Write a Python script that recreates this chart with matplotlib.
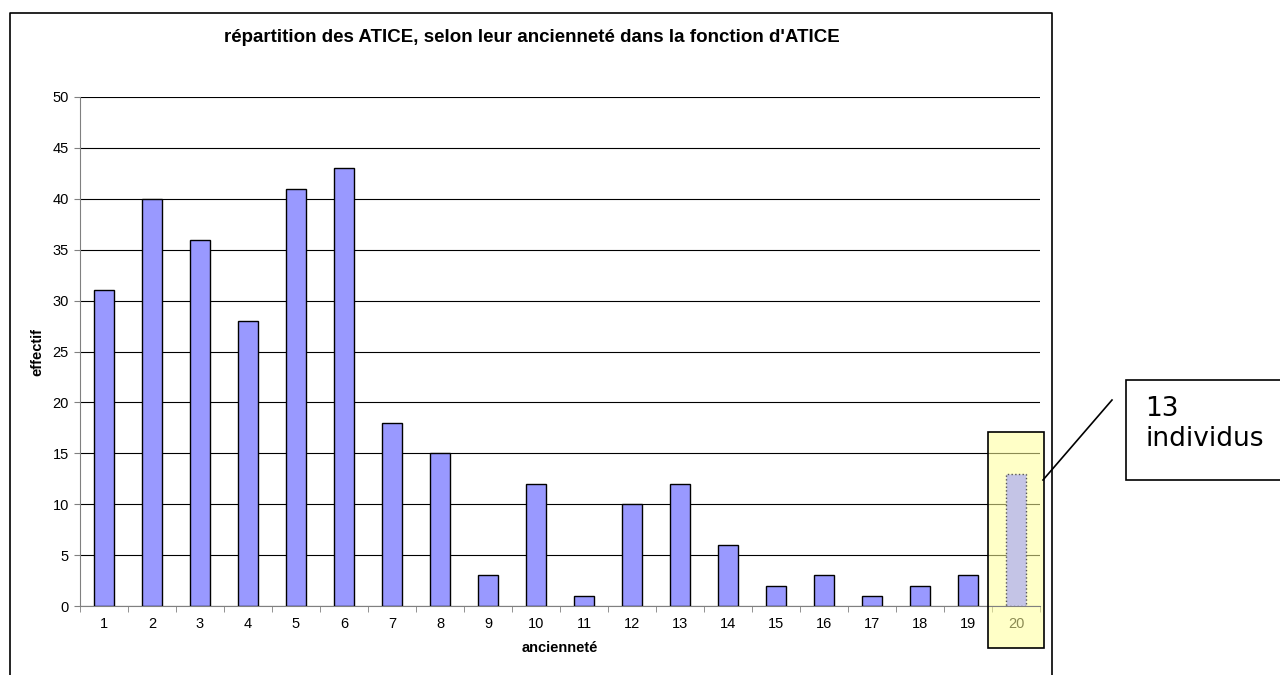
import matplotlib
matplotlib.use('Agg')
from matplotlib import pyplot as plt
from matplotlib.patches import Rectangle
from matplotlib.lines import Line2D

categories = list(range(1, 21))
effectif = [31, 40, 36, 28, 41, 43, 18, 15, 3, 12, 1, 10, 12, 6, 2, 3, 1, 2, 3, 13]
yticks = list(range(0, 51, 5))

plt.rcParams['font.family'] = ['Liberation Sans', 'DejaVu Sans']

fig = plt.figure(figsize=(12.8, 6.75), dpi=100)
W, H = 1280, 675

# outer chart frame (bottom is cut off in the reference)
fig.add_artist(Line2D([10/W, 10/W, 1052/W, 1052/W], [0, 1-13/H, 1-13/H, 0],
                      transform=fig.transFigure, color='black', lw=1.2))

ax = fig.add_axes([80/W, 1-606/H, 960/W, 509/H])

colors = ['#9999ff'] * 19 + ['#c4c4e6']
bars = ax.bar(categories, effectif, width=0.4, color=colors,
              edgecolor='black', linewidth=1, zorder=3)
bars[-1].set_edgecolor('#555555')
bars[-1].set_linestyle(':')

ax.set_xlim(0.5, 20.5)
ax.set_ylim(0, 50)
ax.set_yticks(yticks)
ax.set_xticks(categories)
ax.set_xticks([c + 0.5 for c in [0] + categories], minor=True)
ax.tick_params(axis='x', which='major', length=0, pad=8, labelsize=10.5)
ax.tick_params(axis='x', which='minor', length=4, direction='out', color='#808080')
ax.tick_params(axis='y', length=4, direction='out', color='#808080', labelsize=10.5, pad=4)
ax.yaxis.grid(True, color='black', lw=0.8, zorder=0)
ax.set_axisbelow(True)
for s in ['top', 'right']:
    ax.spines[s].set_visible(False)
ax.spines['left'].set_color('#808080')
ax.spines['bottom'].set_color('#808080')

ax.set_xlabel('ancienneté', fontweight='bold', fontsize=10.5, labelpad=7)
ax.set_ylabel('effectif', fontweight='bold', fontsize=10.5, labelpad=6)
fig.text(532/W, 1-38/H, "répartition des ATICE, selon leur ancienneté dans la fonction d'ATICE",
         ha='center', va='center', fontweight='bold', fontsize=13.5)

# highlight around the last bar
ax.add_patch(Rectangle((19.42, -4.1), 1.16, 21.2, facecolor='#ffff99', alpha=0.55,
                       edgecolor='none', clip_on=False, zorder=2))
ax.add_patch(Rectangle((19.42, -4.1), 1.16, 21.2, facecolor='none',
                       edgecolor='black', lw=1.2, clip_on=False, zorder=4))

# callout
fig.add_artist(Rectangle((1126/W, 1-480/H), 170/W, 100/H, transform=fig.transFigure,
                         facecolor='white', edgecolor='black', lw=1.2))
fig.text(1145/W, 1-424/H, '13\nindividus', family='DejaVu Sans', fontsize=19,
         ha='left', va='center', linespacing=1.25)
fig.add_artist(Line2D([1043/W, 1112/W], [1-480/H, 1-400/H],
                      transform=fig.transFigure, color='black', lw=1.2))

plt.savefig('out.png', dpi=100)
